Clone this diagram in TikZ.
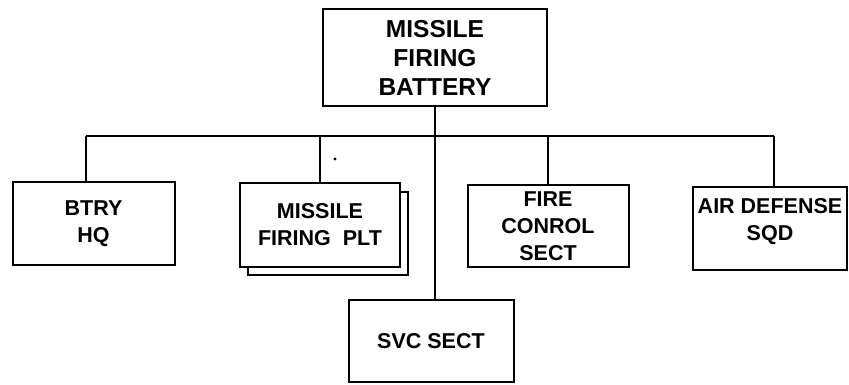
\documentclass[tikz,border=0pt]{standalone}
\usepackage{fontspec}
\setmainfont{Liberation Sans}
\usepackage{tikz}
\usetikzlibrary{positioning,calc}
\tikzset{
  cmdnode/.style={draw, line width=2pt, fill=white, inner sep=0pt, minimum width=224pt, minimum height=97pt, align=center, font=\fontsize{24.5}{29}\selectfont\bfseries},
  unitnode/.style={draw, line width=2pt, fill=white, inner sep=0pt, minimum width=162pt, minimum height=83pt, align=center, font=\fontsize{21.5}{27}\selectfont\bfseries},
  linkline/.style={line width=1.6pt}
}

\begin{document}
\begin{tikzpicture}[x=1pt, y=-1pt]
      \useasboundingbox (0,0) rectangle (849,385);
      \node[cmdnode] (battery) at (435,58) {MISSILE\\FIRING\\BATTERY};
      \node[unitnode] (hq) at (93.5,223.5) {BTRY\\HQ};
      \node[unitnode, minimum width=160pt] (pltback) at (328,233) {};
      \node[unitnode, minimum width=160pt] (plt) at (320,225) {MISSILE\\FIRING\ \ PLT};
      \node[unitnode, minimum width=161pt, minimum height=82pt] (fcs) at (548,226) {FIRE\\CONROL\\SECT};
      \node[unitnode, minimum width=154pt] (ads) at (770,228.5) {AIR DEFENSE\\SQD\\[-8pt]\mbox{}};
      \node[unitnode, minimum width=165pt, minimum height=82pt] (svc) at (431,341) {SVC SECT};
      % bus between the units
      \coordinate (tapHQ) at (86,136);
      \coordinate (tapAD) at (774,136);
      \draw[linkline] (tapHQ) -- (tapAD);
      \draw[linkline] (battery.south) -- (battery.south |- svc.north);
      \draw[linkline] (tapHQ) -- (tapHQ |- hq.north);
      \draw[linkline] (plt.north |- tapHQ) -- (plt.north);
      \draw[linkline] (fcs.north |- tapHQ) -- (fcs.north);
      \draw[linkline] (tapAD) -- (tapAD |- ads.north);
      \fill (335,159) circle (1.6);
    \end{tikzpicture}
\end{document}
